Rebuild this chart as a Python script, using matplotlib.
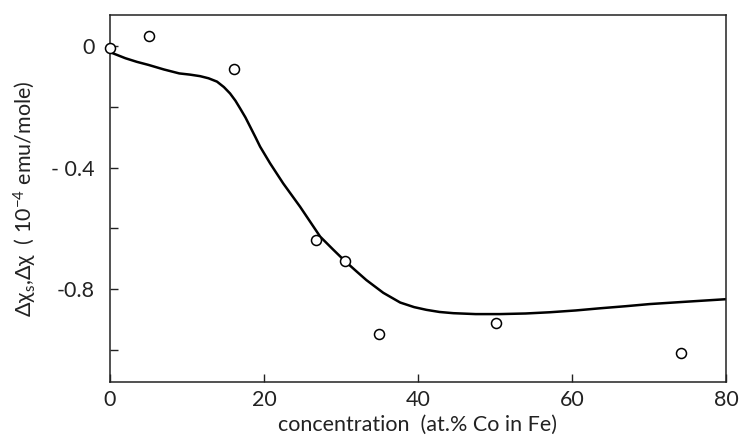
import matplotlib
matplotlib.use("Agg")
import matplotlib.pyplot as plt

plt.rcParams['font.family'] = ['Lato', 'DejaVu Sans']
plt.rcParams['mathtext.fontset'] = 'custom'
plt.rcParams['mathtext.rm'] = 'Lato'
plt.rcParams['mathtext.it'] = 'Lato'

# measured points (at.% Co, 10^-4 emu/mole)
conc_pts = [0.0, 5.1, 16.1, 26.8, 30.5, 34.9, 50.2, 74.2]
dchi_pts = [-0.006, 0.033, -0.077, -0.638, -0.707, -0.947, -0.910, -1.009]

# smooth guide curve drawn through the data
conc_curve = [0, 1, 2, 3.5, 5, 7, 9, 10.4, 11.7, 12.8, 13.9, 14.8, 15.6,
              16.3, 16.9, 17.6, 18.2, 18.9, 19.5, 20.8, 22.5, 24.7, 27.3,
              29, 30.5, 32, 33.3, 35.5, 37.7, 39.5, 41.1, 42.8, 44.6, 47.5,
              50.6, 54, 57.1, 60.5, 63.6, 67, 70.1, 75, 80]
dchi_curve = [-0.02, -0.03, -0.04, -0.052, -0.062, -0.077, -0.090, -0.094,
              -0.099, -0.106, -0.117, -0.135, -0.156, -0.180, -0.205, -0.235,
              -0.265, -0.300, -0.331, -0.386, -0.452, -0.529, -0.627, -0.670,
              -0.707, -0.741, -0.770, -0.812, -0.844, -0.859, -0.868, -0.875,
              -0.879, -0.882, -0.882, -0.880, -0.876, -0.870, -0.863, -0.856,
              -0.849, -0.841, -0.833]

xticks = [0, 20, 40, 60, 80]
xticklabels = ['0', '20', '40', '60', '80']
yticks = [0, -0.2, -0.4, -0.6, -0.8, -1.0]
yticklabels = ['0', '', '- 0.4', '', '-0.8', '']

fig = plt.figure(figsize=(7.43, 4.43), dpi=100)
ax = fig.add_axes([0.148, 0.138, 0.829, 0.828])

ax.plot(conc_curve, dchi_curve, color='black', lw=1.8, zorder=2,
        solid_joinstyle='round', solid_capstyle='round')
ax.plot(conc_pts, dchi_pts, 'o', ms=7.2, mfc='white', mec='black',
        mew=1.1, clip_on=False, zorder=3)

ax.set_xlim(0, 80)
ax.set_ylim(-1.105, 0.102)
ax.set_xticks(xticks)
ax.set_xticklabels(xticklabels)
ax.set_yticks(yticks)
ax.set_yticklabels(yticklabels)

ax.tick_params(direction='in', length=6, width=1.0, labelsize=15.5,
               colors='#222222', labelcolor='#222222')
ax.tick_params(axis='x', pad=6)
ax.tick_params(axis='y', pad=11)

for sp in ax.spines.values():
    sp.set_linewidth(1.1)
    sp.set_color('#222222')

ax.set_xlabel('concentration  (at.% Co in Fe)', fontsize=15.5,
              color='#222222', labelpad=3)
ax.set_ylabel(r'$\mathrm{\Delta\chi_s}$,$\mathrm{\Delta\chi}$  ( 10$^{-4}$ emu/mole)',
              fontsize=15.5, color='#222222', labelpad=9)

fig.savefig('out.png', dpi=100)
